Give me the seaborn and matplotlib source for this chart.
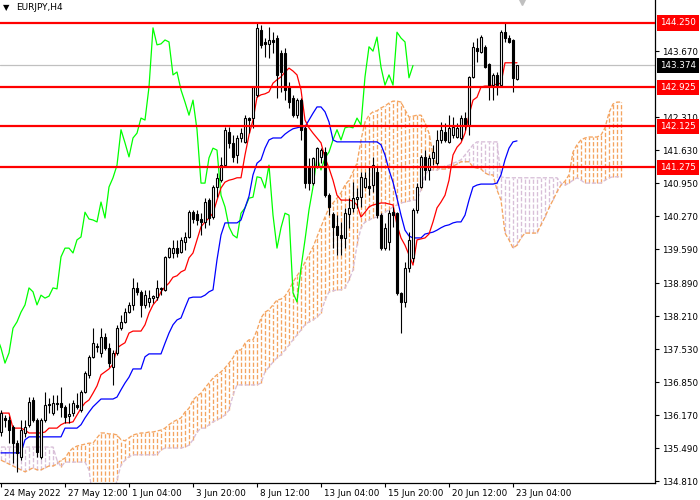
import numpy as np
import pandas as pd
import matplotlib
matplotlib.use("Agg")
import matplotlib.pyplot as plt
import matplotlib.transforms as mtransforms
import seaborn as sns

# ---------------- data (EURJPY H4) ----------------
opens = [135.82,136.11,136.07,135.92,135.59,135.31,135.80,135.97,136.48,136.07,
         135.31,136.07,136.40,136.21,136.40,136.42,136.33,136.15,136.21,136.38,
         136.27,136.64,137.00,137.37,137.57,137.45,137.78,137.55,137.16,137.45,
         137.96,138.09,138.29,138.44,138.79,138.71,138.44,138.50,138.58,138.60,
         138.79,138.75,139.43,139.51,139.61,139.53,139.74,139.84,140.35,140.31,
         140.21,140.15,140.60,140.25,140.87,141.01,141.32,142.00,141.78,141.53,
         141.88,141.80,142.29,142.29,142.77,144.11,143.86,143.82,143.90,143.94,
         143.63,143.63,142.93,142.70,142.35,142.66,142.09,141.28,140.95,141.28,
         141.49,141.59,140.70,140.31,140.07,139.88,139.82,140.31,140.44,140.62,
         140.66,140.87,140.89,140.91,141.18,140.29,139.61,139.74,140.35,140.33,
         138.69,138.50,139.20,139.41,140.40,140.87,141.49,141.22,141.47,141.36,
         141.84,142.00,141.80,141.94,141.90,141.88,142.29,142.15,143.14,143.73,
         143.65,143.76,143.40,142.97,143.18,142.97,144.06,143.94,143.90,143.10]
highs = [136.27,136.17,136.15,135.97,135.66,136.07,136.07,136.54,136.54,136.11,
         136.11,136.64,136.52,136.58,136.58,136.75,136.38,136.42,136.48,136.62,
         136.69,137.08,137.41,137.96,137.66,137.96,137.86,137.66,137.51,138.03,
         138.23,138.38,138.50,138.99,138.91,138.75,138.75,138.75,138.64,138.95,
         138.81,139.45,139.63,139.78,139.78,139.84,139.94,140.40,140.40,140.40,
         140.33,140.64,140.64,140.91,141.16,141.49,142.11,142.11,141.94,141.94,
         142.09,142.35,142.31,142.95,144.25,144.21,143.94,144.17,144.06,144.00,
         143.69,143.73,143.03,142.77,142.70,142.70,142.13,141.47,141.49,141.69,
         141.67,141.69,140.75,140.35,140.29,140.15,140.44,140.64,140.97,140.85,
         141.18,141.18,141.28,141.49,141.28,140.33,140.13,140.40,140.46,140.35,
         138.71,139.32,139.94,140.44,140.95,141.53,141.63,141.53,141.74,142.05,
         142.21,142.19,142.35,142.31,142.19,142.35,142.42,143.16,143.86,143.94,
         144.00,143.80,143.43,143.22,143.24,144.11,144.25,144.00,143.92,143.38]
lows = [135.74,135.92,135.59,135.18,135.00,135.24,135.72,135.92,136.03,135.31,
        135.26,136.03,136.21,136.17,136.27,136.13,136.01,136.01,136.15,136.29,
        136.23,136.62,136.93,137.35,137.47,137.37,137.51,137.16,136.79,137.41,
        137.92,138.07,138.27,138.34,138.64,138.19,138.38,138.40,138.48,138.54,
        138.64,138.73,139.41,139.41,139.43,139.51,139.57,139.82,140.13,140.09,
        139.88,140.03,140.09,140.21,140.66,140.97,141.28,141.67,141.39,141.36,
        141.80,141.78,141.98,142.09,142.72,143.73,143.55,143.53,143.63,142.70,
        142.83,142.66,142.50,142.31,142.29,141.84,140.85,140.81,140.91,141.26,
        141.36,140.66,140.29,139.61,139.47,139.47,139.61,140.03,140.35,140.44,
        140.46,140.85,140.70,140.77,140.23,139.57,139.57,139.57,140.05,138.64,
        137.86,138.40,139.12,139.32,140.33,140.85,141.01,141.01,141.32,141.32,
        141.78,141.80,141.78,141.88,141.88,141.84,142.05,141.94,143.12,143.45,
        143.63,143.32,142.66,142.66,142.77,142.93,143.86,143.84,142.83,143.08]
closes = [136.21,136.07,135.86,135.59,135.39,135.86,135.92,136.44,136.07,135.41,
          136.07,136.38,136.38,136.42,136.41,136.33,136.13,136.19,136.42,136.33,
          136.64,137.04,137.37,137.66,137.59,137.78,137.55,137.24,137.45,137.96,
          138.09,138.29,138.44,138.79,138.71,138.44,138.64,138.58,138.62,138.79,
          138.77,139.43,139.61,139.61,139.51,139.78,139.84,140.35,140.21,140.19,
          140.15,140.56,140.23,140.87,141.06,141.32,142.05,141.78,141.49,141.88,
          141.98,142.29,142.25,142.93,144.15,143.80,143.82,143.90,143.86,143.18,
          143.24,142.87,142.62,142.35,142.66,142.05,140.95,140.95,141.47,141.67,
          141.63,140.70,140.46,140.05,139.88,139.82,140.33,140.44,140.64,140.66,
          141.08,141.06,140.85,141.32,140.29,139.61,140.03,140.33,140.29,138.69,
          138.50,139.20,139.78,140.40,140.87,141.49,141.22,141.47,141.59,141.84,
          142.05,141.84,142.09,142.11,142.09,142.29,142.15,143.14,143.76,143.67,
          143.96,143.34,142.97,143.18,142.97,144.06,143.94,143.86,143.12,143.374]
tenkan = [136.21,136.21,136.21,135.90,135.90,135.90,135.86,135.80,135.80,135.80,
          135.80,135.82,135.90,135.90,135.90,135.97,136.01,136.01,136.03,136.17,
          136.31,136.42,136.48,136.62,136.77,137.00,137.06,137.12,137.22,137.55,
          137.61,137.66,137.86,137.90,137.90,137.90,138.03,138.27,138.44,138.54,
          138.71,138.81,138.89,139.01,139.04,139.12,139.16,139.41,139.51,139.78,
          140.05,140.15,140.23,140.33,140.60,140.85,140.97,141.01,141.03,141.06,
          141.06,141.53,141.94,142.25,142.72,142.77,142.79,142.83,143.01,143.08,
          143.14,143.24,143.32,143.26,143.18,142.87,142.25,142.09,141.98,141.88,
          141.78,141.47,141.26,141.01,140.70,140.60,140.60,140.60,140.58,140.50,
          140.25,140.35,140.46,140.50,140.52,140.54,140.54,140.52,140.50,140.09,
          139.82,139.67,139.47,139.26,139.78,139.80,139.82,139.90,140.15,140.44,
          140.56,140.70,141.01,141.53,141.69,141.78,141.98,142.35,142.66,142.72,
          142.93,142.95,142.95,142.97,142.99,143.01,143.43,143.43,143.43,143.43]
kijun = [135.39,135.39,135.39,135.39,135.39,135.39,135.66,135.72,135.72,135.72,
         135.72,135.72,135.72,135.72,135.72,135.72,135.90,135.90,135.90,135.90,
         135.97,136.11,136.23,136.34,136.42,136.50,136.50,136.50,136.50,136.54,
         136.69,136.83,136.95,137.12,137.12,137.12,137.37,137.43,137.43,137.43,
         137.43,137.65,137.86,138.03,138.13,138.17,138.38,138.58,138.60,138.60,
         138.60,138.64,138.71,138.75,139.37,139.88,140.13,140.13,140.13,140.13,
         140.19,140.44,140.68,141.12,141.36,141.43,141.67,141.84,141.88,141.88,
         141.88,141.96,142.02,142.07,142.09,142.11,142.11,142.25,142.39,142.52,
         142.52,142.42,142.21,141.84,141.80,141.80,141.80,141.80,141.80,141.80,
         141.80,141.80,141.80,141.80,141.80,141.74,141.53,141.22,140.97,140.64,
         140.29,139.98,139.86,139.82,139.82,139.82,139.90,139.92,139.94,139.98,
         140.03,140.07,140.09,140.13,140.15,140.15,140.29,140.60,140.87,140.91,
         140.93,140.93,140.93,140.93,140.95,141.12,141.43,141.67,141.80,141.82]
span_a = [135.24,135.20,135.16,135.12,135.08,135.04,135.00,135.04,135.08,135.04,
          135.04,135.08,135.12,135.12,135.16,135.24,135.28,135.41,135.49,135.53,
          135.55,135.57,135.59,135.59,135.70,135.80,135.80,135.78,135.78,135.76,
          135.66,135.64,135.70,135.76,135.78,135.80,135.80,135.82,135.82,135.84,
          135.86,135.90,135.97,136.03,136.07,136.11,136.23,136.31,136.48,136.56,
          136.62,136.73,136.83,136.93,137.00,137.06,137.14,137.24,137.35,137.51,
          137.51,137.65,137.72,137.72,137.92,138.17,138.29,138.34,138.44,138.54,
          138.56,138.62,138.75,138.91,139.04,139.16,139.32,139.47,139.63,139.84,
          140.05,140.25,140.44,140.54,140.64,140.75,140.91,141.01,141.18,141.36,
          141.84,142.21,142.35,142.42,142.44,142.50,142.54,142.60,142.64,142.64,
          142.62,142.46,142.31,142.33,142.35,142.35,142.19,141.98,141.53,141.28,
          141.24,141.24,141.26,141.30,141.34,141.39,141.39,141.39,141.28,141.26,
          141.24,141.16,141.12,141.12,140.81,140.60,139.92,139.78,139.61,139.67,
          139.82,139.92,139.92,139.92,139.92,140.09,140.25,140.44,140.60,140.77,
          140.91,140.99,141.12,141.59,141.74,141.84,141.88,141.90,141.90,141.90,
          141.94,142.09,142.40,142.58,142.62,142.62]
span_b = [135.51,135.51,135.51,135.51,135.51,135.51,135.51,135.51,135.51,135.51,
          135.51,135.51,135.51,135.51,135.24,135.10,135.20,135.20,135.20,135.20,
          135.20,135.20,135.04,134.42,134.42,134.42,134.42,134.42,134.42,134.83,
          135.14,135.24,135.31,135.35,135.35,135.35,135.35,135.35,135.35,135.35,
          135.45,135.49,135.49,135.49,135.49,135.49,135.51,135.55,135.66,135.82,
          135.90,135.90,135.97,136.03,136.07,136.11,136.17,136.27,136.58,136.79,
          136.79,136.79,136.79,136.79,136.79,136.83,137.06,137.16,137.26,137.35,
          137.41,137.51,137.61,137.72,137.82,137.92,138.03,138.09,138.13,138.19,
          138.27,138.54,138.71,138.73,138.75,138.75,138.79,138.95,139.16,139.67,
          140.03,140.15,140.19,140.23,140.25,140.29,140.35,140.40,140.46,140.50,
          140.54,140.56,140.58,140.60,140.60,140.81,141.12,141.22,141.22,141.22,
          141.26,141.30,141.32,141.36,141.39,141.43,141.53,141.63,141.74,141.80,
          141.80,141.80,141.80,141.80,141.80,141.08,141.06,141.06,141.06,141.06,
          141.06,141.06,141.06,141.06,141.06,141.06,141.06,141.06,141.06,141.06,
          140.95,140.91,140.95,141.01,141.06,141.01,140.95,140.95,140.95,140.95,
          140.95,141.01,141.06,141.08,141.08,141.08]
levels = [144.250, 142.925, 142.125, 141.275]
bid = 143.374
price_ticks = [143.670, 142.310, 141.630, 140.950, 140.270, 139.590,
               138.890, 138.210, 137.530, 136.850, 136.170, 135.490, 134.810]
date_labels = ["24 May 2022", "27 May 12:00", "1 Jun 04:00", "3 Jun 20:00",
               "8 Jun 12:00", "13 Jun 04:00", "15 Jun 20:00", "20 Jun 12:00",
               "23 Jun 04:00"]
symbol = "EURJPY,H4"

# ---------------- frames ----------------
n = len(closes)
bars = np.arange(n)
o = np.array(opens); h = np.array(highs); l = np.array(lows); c = np.array(closes)
lines_df = pd.DataFrame({"bar": bars, "tenkan": tenkan, "kijun": kijun})
chikou_df = pd.DataFrame({"bar": bars - 26, "close": closes})
cloud = pd.DataFrame({"bar": np.arange(len(span_a)), "a": span_a, "b": span_b})

sns.set_style("white")
plt.rcParams['font.family'] = ['DejaVu Sans']

fig = plt.figure(figsize=(7, 5), dpi=100)
ax = fig.add_axes([0, 17 / 500, 655 / 700, 483 / 500])
ax.set_facecolor("white")

SANDY = "#F4A460"
THISTLE = "#D8BFD8"
dash = (0, (3.2, 1.5))

# cloud hatching: one dashed vertical stroke per bar between the two spans
for xi, a, b in zip(cloud["bar"], cloud["a"], cloud["b"]):
    col = SANDY if a >= b else THISTLE
    ax.plot([xi, xi], [min(a, b), max(a, b)], color=col, lw=0.95, ls=dash, zorder=1)
ax.plot(cloud["bar"], cloud["a"], color=SANDY, lw=0.95, ls=dash, zorder=1.2)
ax.plot(cloud["bar"], cloud["b"], color=THISTLE, lw=0.95, ls=dash, zorder=1.2)

# indicator lines
sns.lineplot(data=chikou_df, x="bar", y="close", color="#00FF00", lw=0.9, ax=ax,
             estimator=None, sort=False, zorder=2)
sns.lineplot(data=lines_df, x="bar", y="kijun", color="#0000FF", lw=0.9, ax=ax,
             estimator=None, sort=False, zorder=2)
sns.lineplot(data=lines_df, x="bar", y="tenkan", color="#FF0000", lw=0.9, ax=ax,
             estimator=None, sort=False, zorder=2)

# bid line
ax.axhline(bid, color="#C0C0C0", lw=0.9, zorder=1.5)

# candles
up = c >= o
ax.vlines(bars, l, h, color="black", lw=0.8, zorder=3)
ax.bar(bars[up], c[up] - o[up], bottom=o[up], width=0.6, color="white",
       edgecolor="black", lw=0.8, zorder=4)
ax.bar(bars[~up], o[~up] - c[~up], bottom=c[~up], width=0.6, color="black",
       edgecolor="black", lw=0.8, zorder=4)

# horizontal levels
for lv in levels:
    ax.axhline(lv, color="#FF0000", lw=1.6, zorder=5)

ax.set_xlim(-0.25, 163.5)
ax.set_ylim(134.769, 144.724)
ax.set_xlabel("")
ax.set_ylabel("")

# chart-shift marker
ax.plot([130.25], [144.724], marker="v", ms=7, color="#C0C0C0", zorder=6, clip_on=True)

# axes styling
for s in ["top", "left"]:
    ax.spines[s].set_visible(False)
for s in ["right", "bottom"]:
    ax.spines[s].set_color("black")
    ax.spines[s].set_linewidth(0.9)

ax.yaxis.tick_right()
ax.set_yticks(price_ticks)
ax.set_yticklabels([f"{v:.3f}" for v in price_ticks])
ax.tick_params(axis="y", which="both", right=True, left=False, length=3, width=0.8,
               pad=2, labelsize=6.3, colors="black")

ax.set_xticks(np.arange(len(date_labels)) * 16)
ax.set_xticklabels(date_labels, ha="left")
ax.tick_params(axis="x", bottom=True, length=3, width=0.8, pad=1.5, labelsize=6.3,
               colors="black")
offset = mtransforms.ScaledTranslation(2 / 72, 0, fig.dpi_scale_trans)
for lab in ax.get_xticklabels():
    lab.set_transform(lab.get_transform() + offset)

# price boxes on the right axis
trans = mtransforms.blended_transform_factory(ax.transAxes, ax.transData)
for lv in levels:
    ax.text(1 + 5 / 655, lv, f"{lv:.3f}", transform=trans, ha="left", va="center",
            fontsize=6.3, color="white", clip_on=False, zorder=10,
            bbox=dict(boxstyle="square,pad=0.35", fc="#FF0000", ec="none"))
ax.text(1 + 5 / 655, bid, f"{bid:.3f}", transform=trans, ha="left", va="center",
        fontsize=6.3, color="white", clip_on=False, zorder=10,
        bbox=dict(boxstyle="square,pad=0.35", fc="black", ec="none"))

# title
fig.text(3 / 700, 1 - 8 / 500, "\u25BC", fontsize=6, va="center", ha="left", color="black")
fig.text(16 / 700, 1 - 8 / 500, symbol, fontsize=6.5, va="center", ha="left", color="black")

fig.savefig("out.png", dpi=100)
